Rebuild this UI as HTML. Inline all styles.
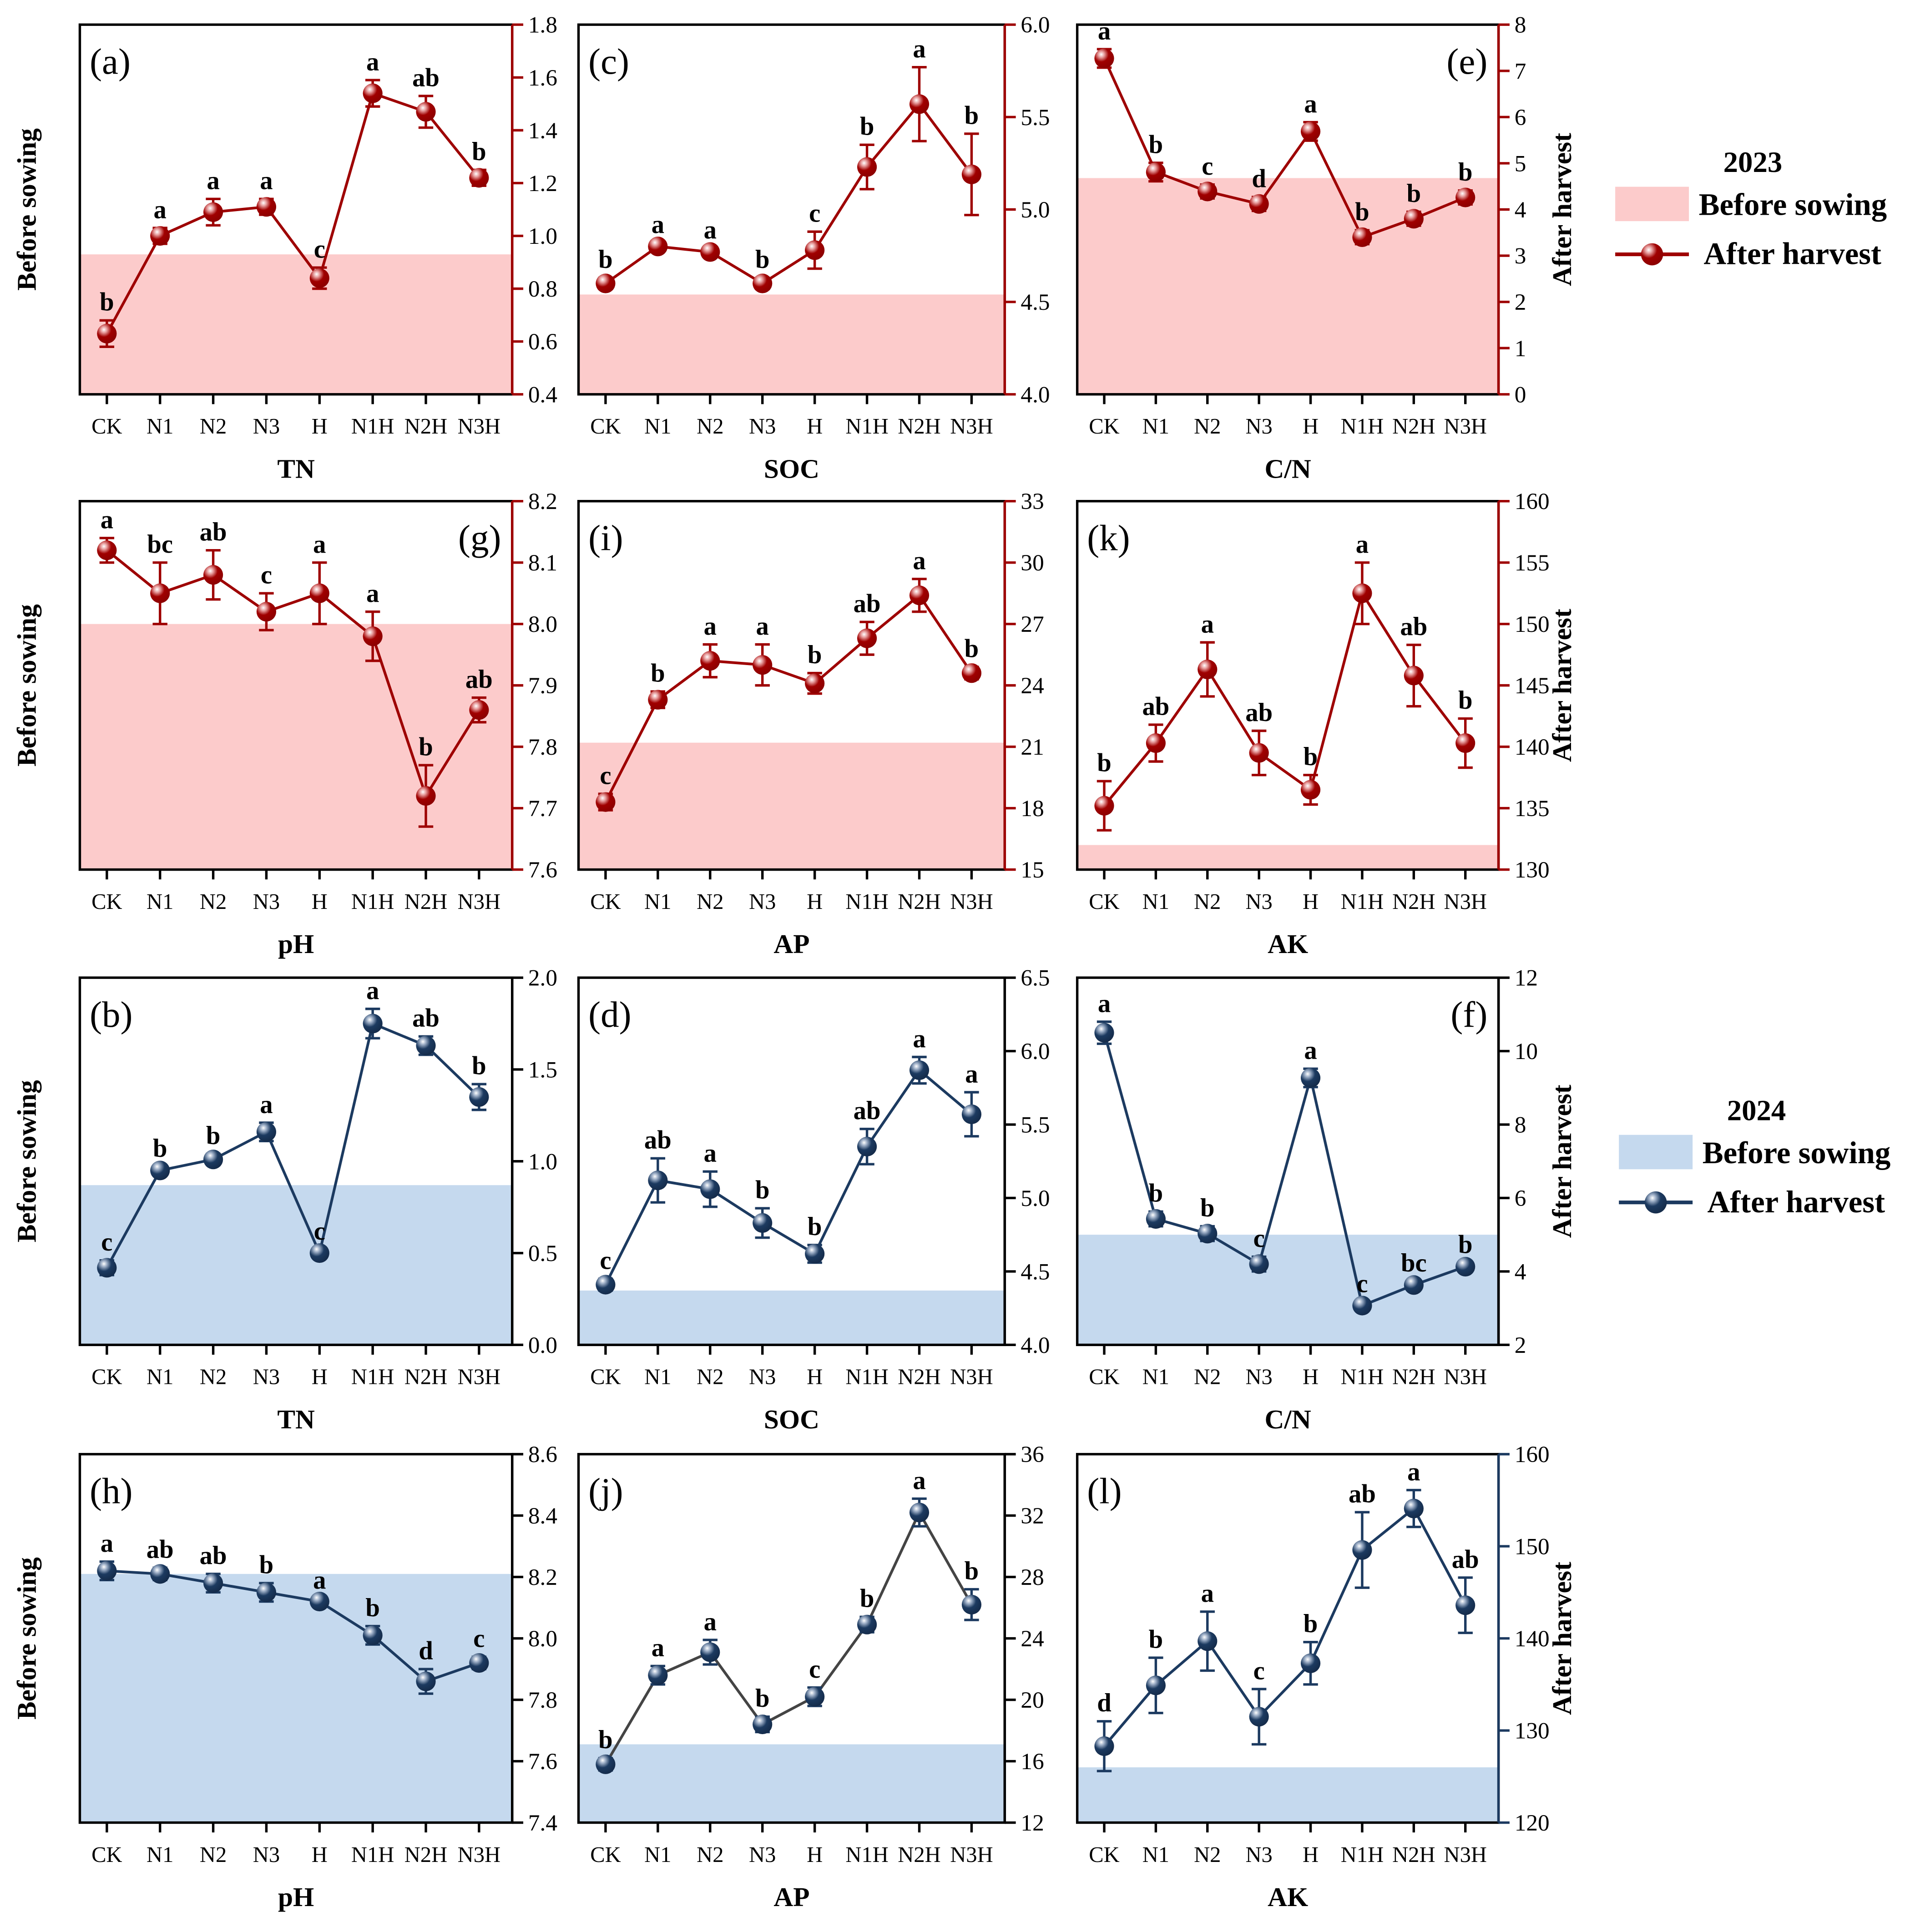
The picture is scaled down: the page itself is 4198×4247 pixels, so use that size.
<!DOCTYPE html>
<html><head><meta charset="utf-8"><style>
html,body{margin:0;padding:0;background:#fff}
svg{display:block;font-family:"Liberation Serif",serif}
</style></head><body>
<svg id="fig" xmlns="http://www.w3.org/2000/svg" width="4198" height="4247" viewBox="0 0 1555 1573">
<defs>
<radialGradient id="gRed" cx="0.35" cy="0.3" r="0.75">
<stop offset="0" stop-color="#ffffff"/><stop offset="0.2" stop-color="#e8a0a0"/><stop offset="0.5" stop-color="#a00000"/><stop offset="1" stop-color="#8a0000"/></radialGradient>
<radialGradient id="gBlue" cx="0.35" cy="0.3" r="0.75">
<stop offset="0" stop-color="#ffffff"/><stop offset="0.2" stop-color="#9fb0c8"/><stop offset="0.5" stop-color="#1c3a60"/><stop offset="1" stop-color="#142a48"/></radialGradient>
</defs>
<g id="panels"></g>
<g id="legends"></g>
</svg>
<script>
const categories = ["CK","N1","N2","N3","H","N1H","N2H","N3H"];

const tn23Vals = [0.63,1.00,1.09,1.11,0.84,1.54,1.47,1.22];
const tn23Err = [0.05,0.03,0.05,0.03,0.04,0.05,0.06,0.03];
const tn23Let = ["b","a","a","a","c","a","ab","b"];
const tn23Ticks = ["0.4","0.6","0.8","1.0","1.2","1.4","1.6","1.8"];
const tn23Base = 0.93;

const soc23Vals = [4.60,4.80,4.77,4.60,4.78,5.23,5.57,5.19];
const soc23Err = [0.03,0.02,0.02,0.03,0.10,0.12,0.20,0.22];
const soc23Let = ["b","a","a","b","c","b","a","b"];
const soc23Ticks = ["4.0","4.5","5.0","5.5","6.0"];
const soc23Base = 4.54;

const cn23Vals = [7.27,4.81,4.39,4.12,5.69,3.40,3.80,4.26];
const cn23Err = [0.2,0.2,0.15,0.15,0.2,0.15,0.15,0.15];
const cn23Let = ["a","b","c","d","a","b","b","b"];
const cn23Ticks = ["0","1","2","3","4","5","6","7","8"];
const cn23Base = 4.68;

const ph23Vals = [8.12,8.05,8.08,8.02,8.05,7.98,7.72,7.86];
const ph23Err = [0.02,0.05,0.04,0.03,0.05,0.04,0.05,0.02];
const ph23Let = ["a","bc","ab","c","a","a","b","ab"];
const ph23Ticks = ["7.6","7.7","7.8","7.9","8.0","8.1","8.2"];
const ph23Base = 8.0;

const ap23Vals = [18.3,23.3,25.2,25.0,24.1,26.3,28.4,24.6];
const ap23Err = [0.4,0.4,0.8,1.0,0.5,0.8,0.8,0.3];
const ap23Let = ["c","b","a","a","b","ab","a","b"];
const ap23Ticks = ["15","18","21","24","27","30","33"];
const ap23Base = 21.2;

const ak23Vals = [135.2,140.3,146.3,139.5,136.5,152.5,145.8,140.3];
const ak23Err = [2,1.5,2.2,1.8,1.2,2.5,2.5,2];
const ak23Let = ["b","ab","a","ab","b","a","ab","b"];
const ak23Ticks = ["130","135","140","145","150","155","160"];
const ak23Base = 132;

const tn24Vals = [0.42,0.95,1.01,1.16,0.50,1.75,1.63,1.35];
const tn24Err = [0.04,0.02,0.03,0.05,0.02,0.08,0.05,0.07];
const tn24Let = ["c","b","b","a","c","a","ab","b"];
const tn24Ticks = ["0.0","0.5","1.0","1.5","2.0"];
const tn24Base = 0.87;

const soc24Vals = [4.41,5.12,5.06,4.83,4.62,5.35,5.87,5.57];
const soc24Err = [0.04,0.15,0.12,0.10,0.06,0.12,0.09,0.15];
const soc24Let = ["c","ab","a","b","b","ab","a","a"];
const soc24Ticks = ["4.0","4.5","5.0","5.5","6.0","6.5"];
const soc24Base = 4.37;

const cn24Vals = [10.5,5.43,5.03,4.2,9.27,3.07,3.63,4.13];
const cn24Err = [0.3,0.2,0.2,0.2,0.25,0.1,0.1,0.1];
const cn24Let = ["a","b","b","c","a","c","bc","b"];
const cn24Ticks = ["2","4","6","8","10","12"];
const cn24Base = 5.0;

const ph24Vals = [8.22,8.21,8.18,8.15,8.12,8.01,7.86,7.92];
const ph24Err = [0.03,0.02,0.03,0.03,0.01,0.03,0.04,0.02];
const ph24Let = ["a","ab","ab","b","a","b","d","c"];
const ph24Ticks = ["7.4","7.6","7.8","8.0","8.2","8.4","8.6"];
const ph24Base = 8.21;

const ap24Vals = [15.8,21.6,23.1,18.4,20.2,24.9,32.2,26.2];
const ap24Err = [0.4,0.6,0.8,0.5,0.6,0.5,0.9,1.0];
const ap24Let = ["b","a","a","b","c","b","a","b"];
const ap24Ticks = ["12","16","20","24","28","32","36"];
const ap24Base = 17.1;

const ak24Vals = [128.3,134.9,139.7,131.5,137.3,149.6,154.1,143.6];
const ak24Err = [2.7,3,3.2,3,2.3,4.1,2,3];
const ak24Let = ["d","b","a","c","b","ab","a","ab"];
const ak24Ticks = ["120","130","140","150","160"];
const ak24Base = 126;

const NS = "http://www.w3.org/2000/svg";
function mk(tag, attrs, parent, txt){
  const e = document.createElementNS(NS, tag);
  for (const k in attrs) e.setAttribute(k, attrs[k]);
  if (txt !== undefined) e.textContent = txt;
  parent.appendChild(e);
  return e;
}
const RED = {line:"#9e0000", grad:"url(#gRed)", shade:"#fccbcb", axis:"#9e0000"};
const BLUE = {line:"#1c3a60", grad:"url(#gBlue)", shade:"#c5d9ee", axis:"#1c3a60"};

const colX = [[65,417],[471,818],[877,1220]];
const rowY = [[20,321],[408,708],[796,1095],[1184,1484]];

function drawPanel(id, col, row, vals, errs, lets, ticks, base, pal, label, labelRight, xtitle, lineColor, axisColor){
  const root = document.getElementById("panels");
  const g = mk("g", {}, root);
  
  
  const [x0, x1] = colX[col];
  const [y0, y1] = rowY[row];
  const tmin = parseFloat(ticks[0]), tmax = parseFloat(ticks[ticks.length-1]);
  const ys = v => y1 - (v - tmin) / (tmax - tmin) * (y1 - y0);
  const step = (x1 - x0 - 49) / 7;
  const xs = i => x0 + 22 + i * step;
  const sh = mk("rect", {x:x0, y:ys(base), width:x1-x0, height:y1-ys(base), fill:pal.shade}, g);
  
  
  mk("rect", {x:x0, y:y0, width:x1-x0, height:y1-y0, fill:"none", stroke:"#000", "stroke-width":2}, g);
  const ra = mk("line", {x1:x1, y1:y0, x2:x1, y2:y1, stroke:axisColor, "stroke-width":2}, g);
  
  
  ticks.forEach(t => {
    const y = ys(parseFloat(t));
    mk("line", {x1:x1, y1:y, x2:x1+9, y2:y, stroke:axisColor, "stroke-width":2}, g);
    const tl = mk("text", {x:x1+13, y:y+6.5, "font-size":19, fill:"#000"}, g, t);
    
    
  });
  categories.forEach((c, i) => {
    const x = xs(i);
    mk("line", {x1:x, y1:y1, x2:x, y2:y1+8, stroke:"#000", "stroke-width":2}, g);
    const xl = mk("text", {x:x, y:y1+32, "font-size":18, "text-anchor":"middle"}, g, c);
    
    
  });
  const xt = mk("text", {x:(x0+x1)/2, y:y1+68, "font-size":22, "font-weight":"bold", "text-anchor":"middle"}, g, xtitle);
  
  
  const pts = vals.map((v, i) => xs(i) + "," + ys(v)).join(" ");
  const pl = mk("polyline", {points:pts, fill:"none", stroke:lineColor, "stroke-width":2.2}, g);
  
  
  vals.forEach((v, i) => {
    const x = xs(i), yt = ys(v + errs[i]), yb = ys(v - errs[i]);
    const eb = mk("path", {d:`M${x},${yt}V${yb}M${x-6},${yt}H${x+6}M${x-6},${yb}H${x+6}`, stroke:pal.line, "stroke-width":2, fill:"none"}, g);
    
    
    const pt = mk("circle", {cx:x, cy:ys(v), r:8, fill:pal.grad}, g);
    
    
    const lt = mk("text", {x:x, y:yt-8, "font-size":21, "font-weight":"bold", "text-anchor":"middle"}, g, lets[i]);
    
    
  });
  const pl2 = labelRight
    ? mk("text", {x:x1-9, y:y0+40, "font-size":30, "text-anchor":"end"}, g, label)
    : mk("text", {x:x0+8, y:y0+40, "font-size":30}, g, label);
  
  
  if (col === 0) {
    const cy = (y0 + y1) / 2;
    const lt = mk("text", {x:29, y:cy, "font-size":22, "font-weight":"bold", "text-anchor":"middle", transform:`rotate(-90 29 ${cy})`}, g, "Before sowing");
    
    
  }
  if (col === 2) {
    const cy = (y0 + y1) / 2;
    const rt = mk("text", {x:1279, y:cy, "font-size":22, "font-weight":"bold", "text-anchor":"middle", transform:`rotate(-90 1279 ${cy})`}, g, "After harvest");
    
    
  }
}

drawPanel("a",0,0,tn23Vals,tn23Err,tn23Let,tn23Ticks,tn23Base,RED,"(a)",false,"TN",RED.line,RED.axis);
drawPanel("c",1,0,soc23Vals,soc23Err,soc23Let,soc23Ticks,soc23Base,RED,"(c)",false,"SOC",RED.line,RED.axis);
drawPanel("e",2,0,cn23Vals,cn23Err,cn23Let,cn23Ticks,cn23Base,RED,"(e)",true,"C/N",RED.line,RED.axis);
drawPanel("g",0,1,ph23Vals,ph23Err,ph23Let,ph23Ticks,ph23Base,RED,"(g)",true,"pH",RED.line,RED.axis);
drawPanel("i",1,1,ap23Vals,ap23Err,ap23Let,ap23Ticks,ap23Base,RED,"(i)",false,"AP",RED.line,RED.axis);
drawPanel("k",2,1,ak23Vals,ak23Err,ak23Let,ak23Ticks,ak23Base,RED,"(k)",false,"AK",RED.line,RED.axis);
drawPanel("b",0,2,tn24Vals,tn24Err,tn24Let,tn24Ticks,tn24Base,BLUE,"(b)",false,"TN",BLUE.line,"#000");
drawPanel("d",1,2,soc24Vals,soc24Err,soc24Let,soc24Ticks,soc24Base,BLUE,"(d)",false,"SOC",BLUE.line,"#000");
drawPanel("f",2,2,cn24Vals,cn24Err,cn24Let,cn24Ticks,cn24Base,BLUE,"(f)",true,"C/N",BLUE.line,"#000");
drawPanel("h",0,3,ph24Vals,ph24Err,ph24Let,ph24Ticks,ph24Base,BLUE,"(h)",false,"pH",BLUE.line,"#000");
drawPanel("j",1,3,ap24Vals,ap24Err,ap24Let,ap24Ticks,ap24Base,BLUE,"(j)",false,"AP","#444444","#000");
drawPanel("l",2,3,ak24Vals,ak24Err,ak24Let,ak24Ticks,ak24Base,BLUE,"(l)",false,"AK",BLUE.line,BLUE.axis);

function legend(name, x, y, year, pal){
  const root = document.getElementById("legends");
  const g = mk("g", {}, root);
  
  
  const t = mk("text", {x:x+112, y:y, "font-size":24, "font-weight":"bold", "text-anchor":"middle"}, g, year);
  
  
  const r = mk("rect", {x:x, y:y+12, width:60, height:28, fill:pal.shade}, g);
  
  
  const t1 = mk("text", {x:x+68, y:y+35, "font-size":25.5, "font-weight":"bold"}, g, "Before sowing");
  
  
  mk("line", {x1:x, y1:y+67, x2:x+60, y2:y+67, stroke:pal.line, "stroke-width":3}, g);
  mk("circle", {cx:x+30, cy:y+67, r:9, fill:pal.grad}, g);
  const t2 = mk("text", {x:x+72, y:y+75, "font-size":25.5, "font-weight":"bold"}, g, "After harvest");
  
  
}
legend("legend-2023", 1315, 140, "2023", RED);
legend("legend-2024", 1318, 912, "2024", BLUE);
</script>
</body></html>
